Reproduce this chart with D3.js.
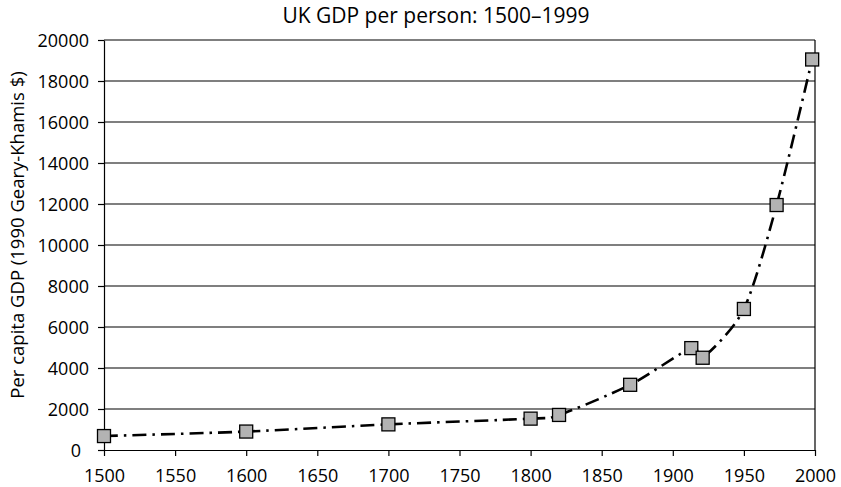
<!DOCTYPE html>
<html>
<head>
<meta charset="utf-8">
<script src="https://cdn.jsdelivr.net/npm/d3@7"></script>
<style>
  body { margin: 0; background: #fff; }
  svg text { font-family: "Open Sans", sans-serif; fill: #000; }
</style>
</head>
<body>
<div id="chart"></div>
<script>
// data
var years = [1500, 1600, 1700, 1800, 1820, 1870, 1913, 1921, 1950, 1973, 1998];
var gdp = [680, 900, 1250, 1530, 1710, 3180, 4970, 4500, 6880, 11950, 19050];
var xTicks = [1500, 1550, 1600, 1650, 1700, 1750, 1800, 1850, 1900, 1950, 2000];
var yTicks = [0, 2000, 4000, 6000, 8000, 10000, 12000, 14000, 16000, 18000, 20000];
var title = "UK GDP per person: 1500\u20131999";
var yLabel = "Per capita GDP (1990 Geary-Khamis $)";

var width = 841, height = 487;
var margin = {top: 40, right: 26, bottom: 37, left: 104};

var svg = d3.select("#chart").append("svg")
    .attr("width", width)
    .attr("height", height);

var x = d3.scaleLinear().domain([1500, 2000]).range([margin.left, width - margin.right]);
var y = d3.scaleLinear().domain([0, 20000]).range([height - margin.bottom, margin.top]);

// horizontal gridlines
svg.append("g")
    .selectAll("line")
    .data(yTicks.filter(function(d) { return d > 0; }))
    .enter().append("line")
        .attr("x1", x(1500))
        .attr("x2", x(2000))
        .attr("y1", function(d) { return y(d); })
        .attr("y2", function(d) { return y(d); })
        .attr("stroke", "#000")
        .attr("stroke-width", 1.2);

// right border
svg.append("line")
    .attr("x1", x(2000)).attr("x2", x(2000))
    .attr("y1", y(20000)).attr("y2", y(0))
    .attr("stroke", "#000").attr("stroke-width", 1.2);

// axes
var xAxis = svg.append("g")
    .attr("transform", "translate(0," + y(0) + ")")
    .call(d3.axisBottom(x).tickValues(xTicks).tickFormat(d3.format("d")).tickSize(6).tickSizeOuter(0));

var yAxis = svg.append("g")
    .attr("transform", "translate(" + x(1500) + ",0)")
    .call(d3.axisLeft(y).tickValues(yTicks).tickFormat(d3.format("d")).tickSize(6).tickSizeOuter(0));

[xAxis, yAxis].forEach(function(a) {
    a.select(".domain").attr("stroke", "#000").attr("stroke-width", 1.2);
    a.selectAll(".tick line").attr("stroke", "#000").attr("stroke-width", 1.2);
    a.selectAll("text").style("font-size", "18px").style("font-weight", 500).attr("fill", "#000");
});
xAxis.selectAll("text").attr("dy", 0).attr("y", 32);
yAxis.selectAll("text").attr("x", -15).attr("dy", "0.36em");
// the "0" label sits a little further left in the original
yAxis.selectAll(".tick text").filter(function(d) { return d === 0; }).attr("x", -23);

// line, smoothed like the original spreadsheet chart
var points = years.map(function(d, i) { return [d, gdp[i]]; });

var line = d3.line()
    .x(function(d) { return x(d[0]); })
    .y(function(d) { return y(d[1]); })
    .curve(d3.curveCardinal.tension(0.2));

svg.append("path")
    .datum(points)
    .attr("d", line)
    .attr("fill", "none")
    .attr("stroke", "#000")
    .attr("stroke-width", 2.6)
    .attr("stroke-dasharray", "14,6,2.5,6");

// markers
var ms = 13;
svg.append("g")
    .selectAll("rect")
    .data(points)
    .enter().append("rect")
        .attr("x", function(d) { return x(d[0]) - ms / 2; })
        .attr("y", function(d) { return y(d[1]) - ms / 2; })
        .attr("width", ms)
        .attr("height", ms)
        .attr("fill", "#b3b3b3")
        .attr("stroke", "#000")
        .attr("stroke-width", 1.3);

// title
svg.append("text")
    .attr("x", 436)
    .attr("y", 23)
    .attr("text-anchor", "middle")
    .style("font-size", "21px")
    .style("font-weight", 500)
    .text(title);

// y label
svg.append("text")
    .attr("transform", "translate(23.5,235) rotate(-90)")
    .attr("text-anchor", "middle")
    .style("font-size", "18.5px")
    .style("font-weight", 500)
    .text(yLabel);
</script>
</body>
</html>
